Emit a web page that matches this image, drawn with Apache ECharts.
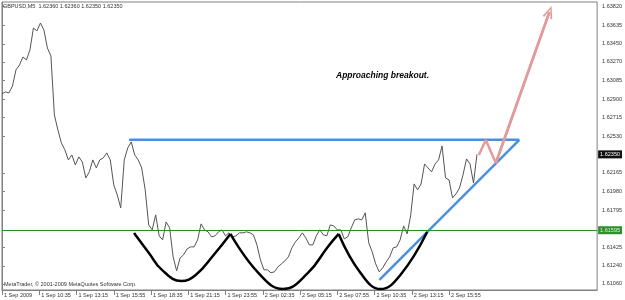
<!DOCTYPE html>
<html>
<head>
<meta charset="utf-8">
<script src="https://cdn.jsdelivr.net/npm/echarts@6/dist/echarts.min.js"></script>
<style>
html,body{margin:0;padding:0;background:#fff;}
#c{width:625px;height:300px;}
</style>
</head>
<body>
<div id="c"></div>
<script>
// ---- data ----
// x values are minutes after 1 Sep 2009 07:55 (server time); price sampled every 15 minutes
const sampleStepMin = 15;
const xTickStepMin = 160;
const xTickLabels = ['1 Sep 2009','1 Sep 10:35','1 Sep 13:15','1 Sep 15:55','1 Sep 18:35','1 Sep 21:15','1 Sep 23:55','2 Sep 02:35','2 Sep 05:15','2 Sep 07:55','2 Sep 10:35','2 Sep 13:15','2 Sep 15:55'];
const yTickLabels = ['1.63820','1.63635','1.63450','1.63270','1.63085','1.62900','1.62715','1.62530','1.62165','1.61980','1.61795','1.61425','1.61240','1.61060'];
const prices = [
 1.62952,1.62972,1.62962,1.63031,1.63191,1.63240,1.63320,1.63290,1.63390,1.63608,
 1.63579,1.63658,1.63589,1.63409,1.63330,1.62743,1.62594,1.62464,1.62395,1.62295,
 1.62345,1.62245,1.62325,1.62275,1.62116,1.62176,1.62295,1.62215,1.62295,1.62315,
 1.62365,1.62295,1.62046,1.61947,1.61817,1.62295,1.62414,1.62474,1.62345,1.62295,
 1.62215,1.61997,1.61648,1.61599,1.61748,1.61539,1.61499,1.61678,1.61618,1.61330,
 1.61191,1.61320,1.61350,1.61409,1.61429,1.61429,1.61499,1.61658,1.61599,1.61579,
 1.61529,1.61539,1.61579,1.61599,1.61539,1.61569,1.61529,1.61539,1.61569,1.61569,
 1.61579,1.61569,1.61549,1.61449,1.61300,1.61201,1.61201,1.61171,1.61181,1.61230,
 1.61260,1.61290,1.61330,1.61419,1.61479,1.61519,1.61569,1.61519,1.61449,1.61449,
 1.61539,1.61599,1.61549,1.61539,1.61648,1.61638,1.61599,1.61599,1.61509,1.61529,
 1.61618,1.61698,1.61708,1.61698,1.61768,1.61469,1.61380,1.61260,1.61181,1.61220,
 1.61280,1.61330,1.61419,1.61429,1.61499,1.61638,1.61559,1.61738,1.62056,1.61997,
 1.62056,1.62255,1.62215,1.62176,1.62255,1.62295,1.62434,1.62116,1.62096,1.61917,
 1.61957,1.62016,1.62146,1.62305,1.62255,1.62066,1.62350
];
const titleText = 'GBPUSD,M5  1.62360 1.62360 1.62350 1.62350';
const copyrightText = 'MetaTrader, \u00A9 2001-2009 MetaQuotes Software Corp.';
const noteText = 'Approaching breakout.';
const currentPrice = 1.62350;
const supportLevel = 1.61595;
// annotation drawings: [minutes, price]
const neckline = [[546, 1.62495],[2222, 1.62495]];
const trendline = [[1621, 1.61100],[2222, 1.62495]];
const cup1 = [[567,1.61568],[631,1.61369],[687,1.61200],[770,1.61090],[832,1.61150],[909,1.61349],[981,1.61558]];
const cup2 = [[981,1.61558],[1101,1.61170],[1207,1.61010],[1314,1.61170],[1399,1.61429],[1446,1.61558]];
const cup3 = [[1446,1.61558],[1540,1.61170],[1626,1.61010],[1711,1.61150],[1826,1.61578]];
const projection = [[2048,1.62344],[2078,1.62493],[2121,1.62264],[2351,1.63767]];

// ---- chart ----
const xMin = 0, xMax = 2556;
const yMin = 1.61000, yMax = 1.63867;
const priceData = prices.map((p, i) => [i * sampleStepMin, p]);
const xTickValues = xTickLabels.map((_, i) => i * xTickStepMin);
const yTickValues = yTickLabels.map(Number);
const smallFont = 'Liberation Sans';
const chevron = 'path://M5,0 L10,12 L8.4,13 L5,3.6 L1.6,13 L0,12 Z';

const chart = echarts.init(document.getElementById('c'), null, {renderer: 'canvas'});
chart.setOption({
  animation: false,
  backgroundColor: '#ffffff',
  title: {
    text: titleText, left: 3, top: 3, padding: 0,
    textStyle: {fontSize: 5.5, fontWeight: 'normal', color: '#333', fontFamily: smallFont}
  },
  grid: {left: 2, right: 24, top: 2, bottom: 10, show: true, borderColor: '#808080', borderWidth: 1, backgroundColor: '#ffffff'},
  xAxis: {
    type: 'value', min: xMin, max: xMax,
    axisLine: {show: true, lineStyle: {color: '#808080', width: 1}},
    axisTick: {show: true, length: 5, customValues: xTickValues, lineStyle: {color: '#808080'}},
    axisLabel: {
      customValues: xTickValues, align: 'left', margin: 2, padding: [0,0,0,2],
      fontSize: 5.5, color: '#333', fontFamily: smallFont,
      formatter: v => xTickLabels[xTickValues.indexOf(v)] || ''
    },
    splitLine: {show: false}
  },
  yAxis: {
    type: 'value', position: 'right', min: yMin, max: yMax, scale: true,
    axisLine: {show: true, lineStyle: {color: '#808080', width: 1}},
    axisTick: {show: true, length: 3, customValues: yTickValues, lineStyle: {color: '#808080'}},
    axisLabel: {
      customValues: yTickValues, margin: 5, fontSize: 5.5, color: '#333', fontFamily: smallFont,
      formatter: v => v.toFixed(5)
    },
    splitLine: {show: false}
  },
  graphic: [
    {type: 'text', left: 4, top: 281, style: {text: copyrightText, fontSize: 5.5, fill: '#333', fontFamily: smallFont}},
    {type: 'text', left: 336, top: 71, style: {text: noteText, fontSize: 8.5, fontWeight: 'bold', fontStyle: 'italic', fill: '#000', fontFamily: 'Liberation Sans'}}
  ],
  series: [
    {
      type: 'line', data: priceData, showSymbol: false, smooth: false,
      lineStyle: {color: '#555555', width: 1},
      z: 3,
      markLine: {
        silent: true, symbol: ['none','none'], animation: false, precision: 5,
        data: [
          {yAxis: supportLevel, lineStyle: {color: '#2a8a2a', width: 1, type: 'solid'},
           label: {position: 'end', distance: 1, formatter: p => Number(p.value).toFixed(5), backgroundColor: '#2f8f2f', color: '#d8f0d8', fontSize: 5.5, fontFamily: smallFont, padding: [1,2,1,2]}},
          {yAxis: currentPrice, lineStyle: {color: 'rgba(0,0,0,0)', width: 0},
           label: {position: 'end', distance: 1, formatter: p => Number(p.value).toFixed(5), backgroundColor: '#111', color: '#fff', fontSize: 5.5, fontFamily: smallFont, padding: [1,2,1,2]}}
        ]
      }
    },
    {type: 'line', data: neckline, showSymbol: false, lineStyle: {color: '#4a90dc', width: 2.5}, z: 4},
    {type: 'line', data: trendline, showSymbol: false, lineStyle: {color: '#4a90dc', width: 2.5}, z: 4},
    {type: 'line', data: cup1, showSymbol: false, smooth: 0.45, lineStyle: {color: '#000', width: 2.5}, z: 5},
    {type: 'line', data: cup2, showSymbol: false, smooth: 0.45, lineStyle: {color: '#000', width: 2.5}, z: 5},
    {type: 'line', data: cup3, showSymbol: false, smooth: 0.45, lineStyle: {color: '#000', width: 2.5}, z: 5},
    {
      type: 'line', data: projection, showSymbol: false, lineStyle: {color: '#e29a9a', width: 2.5}, z: 6,
      markLine: {
        silent: true, animation: false, symbol: ['none', chevron], symbolSize: [10, 13],
        lineStyle: {color: '#e29a9a', width: 2.5, type: 'solid'},
        label: {show: false},
        data: [[{coord: projection[projection.length - 2]}, {coord: projection[projection.length - 1]}]]
      }
    }
  ]
});
</script>
</body>
</html>
